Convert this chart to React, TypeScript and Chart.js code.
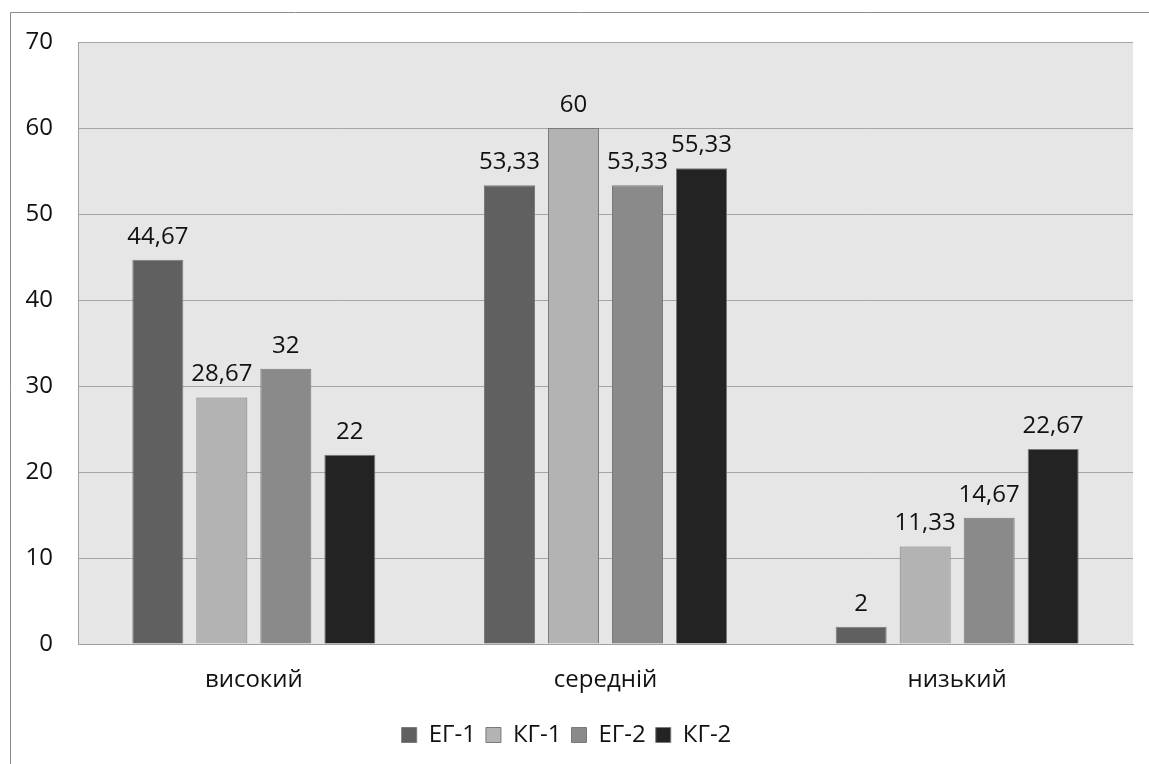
import React, { useEffect, useRef } from "react";
import { Chart, registerables } from "chart.js";

Chart.register(...registerables);

const categories = ["високий", "середній", "низький"];
const seriesNames = ["ЕГ-1", "КГ-1", "ЕГ-2", "КГ-2"];
const eg1 = [44.67, 53.33, 2];
const kg1 = [28.67, 60, 11.33];
const eg2 = [32, 53.33, 14.67];
const kg2 = [22, 55.33, 22.67];
const seriesColors = ["#606060", "#b3b3b3", "#8a8a8a", "#232323"];
const yTicks = [0, 10, 20, 30, 40, 50, 60, 70];

const FONT = "'Open Sans', 'Noto Sans', sans-serif";
const FS = 24;
const TXT = "#111111";

const bgPlugin = {
  id: "bgPlugin",
  beforeDraw(chart: any) {
    const { ctx, chartArea } = chart;
    ctx.save();
    ctx.fillStyle = "#ffffff";
    ctx.fillRect(0, 0, chart.width, chart.height);
    ctx.strokeStyle = "#8c8c8c";
    ctx.lineWidth = 1;
    ctx.beginPath();
    ctx.moveTo(10.5, chart.height + 5);
    ctx.lineTo(10.5, 12.5);
    ctx.lineTo(chart.width + 5, 12.5);
    ctx.stroke();
    ctx.fillStyle = "#e6e6e6";
    ctx.fillRect(chartArea.left, chartArea.top, chartArea.right - chartArea.left, chartArea.bottom - chartArea.top);
    ctx.restore();
  },
};

const labelPlugin = {
  id: "labelPlugin",
  afterDatasetsDraw(chart: any) {
    const { ctx } = chart;
    ctx.save();
    ctx.font = `${FS}px ${FONT}`;
    ctx.fillStyle = TXT;
    ctx.textAlign = "center";
    ctx.textBaseline = "bottom";
    chart.data.datasets.forEach((ds: any, di: number) => {
      const meta = chart.getDatasetMeta(di);
      meta.data.forEach((bar: any, i: number) => {
        const v = ds.data[i];
        const txt = String(v).replace(".", ",");
        ctx.fillText(txt, bar.x, bar.y - 11);
      });
    });
    ctx.restore();
  },
};

export default function App() {
  const ref = useRef<HTMLCanvasElement>(null);
  useEffect(() => {
    const all = [eg1, kg1, eg2, kg2];
    const chart = new Chart(ref.current as HTMLCanvasElement, {
      type: "bar",
      data: {
        labels: categories,
        datasets: seriesNames.map((n, i) => ({
          label: n,
          data: all[i],
          backgroundColor: seriesColors[i],
          borderColor: "#7a7a7a",
          borderWidth: 1,
          categoryPercentage: 0.728,
          barPercentage: 0.797,
        })),
      },
      options: {
        animation: false,
        responsive: true,
        maintainAspectRatio: false,
        layout: { padding: { left: 0, top: 42, right: 16, bottom: 7 } },
        plugins: {
          legend: {
            position: "bottom",
            labels: {
              boxWidth: 15,
              boxHeight: 15,
              padding: 10,
              color: TXT,
              font: { family: FONT, size: FS },
            },
          },
          tooltip: { enabled: false },
        },
        scales: {
          x: {
            grid: { display: false, drawTicks: false },
            border: { display: true, color: "#a0a0a0" },
            ticks: { color: TXT, padding: 22, font: { family: FONT, size: FS } },
            afterFit(scale: any) {
              scale.height = 69;
            },
          },
          y: {
            min: 0,
            max: 70,
            afterBuildTicks(scale: any) {
              scale.ticks = yTicks.map((v) => ({ value: v }));
            },
            grid: { color: "#a6a6a6", drawTicks: false },
            border: { display: true, color: "#a0a0a0" },
            ticks: { color: TXT, padding: 25, font: { family: FONT, size: FS } },
            afterFit(scale: any) {
              scale.width = 78;
            },
          },
        },
      },
      plugins: [bgPlugin, labelPlugin],
    } as any);
    return () => chart.destroy();
  }, []);
  return (
    <div style={{ position: "absolute", left: 0, top: 0, width: 1149, height: 764 }}>
      <canvas ref={ref} />
    </div>
  );
}
